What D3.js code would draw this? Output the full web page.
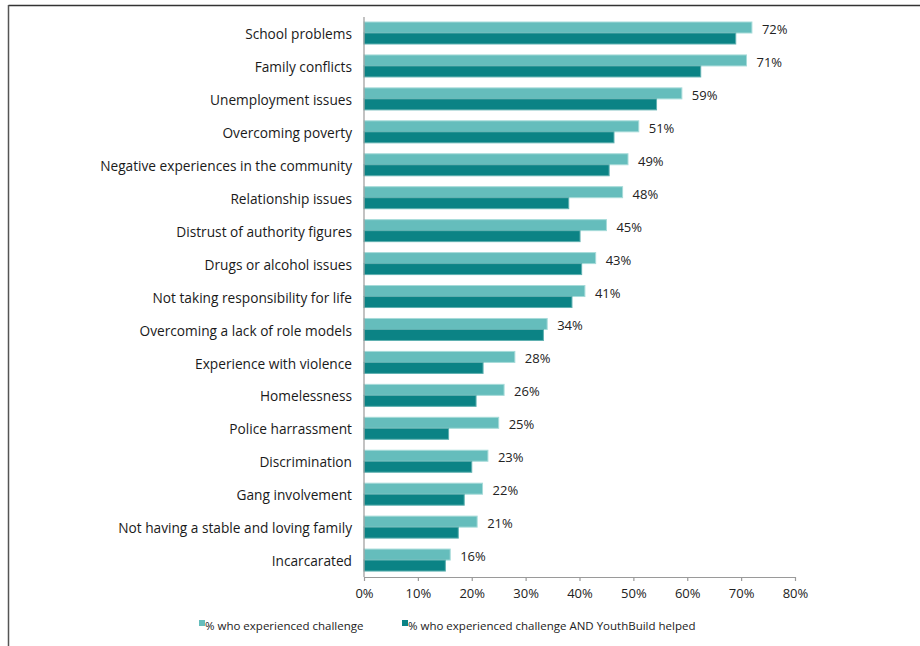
<!DOCTYPE html>
<html><head><meta charset="utf-8">
<script src="https://cdn.jsdelivr.net/npm/d3@7"></script>
<style>body{margin:0;background:#fff}svg{display:block}</style>
</head><body>
<svg id="c" width="920" height="646"></svg>
<script>
const categories = ["School problems","Family conflicts","Unemployment issues","Overcoming poverty","Negative experiences in the community","Relationship issues","Distrust of authority figures","Drugs or alcohol issues","Not taking responsibility for life","Overcoming a lack of role models","Experience with violence","Homelessness","Police harrassment","Discrimination","Gang involvement","Not having a stable and loving family","Incarcarated"];
const experienced = [72,71,59,51,49,48,45,43,41,34,28,26,25,23,22,21,16];
const helped = [69.0,62.5,54.3,46.4,45.5,38.0,40.1,40.4,38.6,33.3,22.1,20.8,15.7,20.0,18.6,17.5,15.1];
const seriesNames = ["% who experienced challenge","% who experienced challenge AND YouthBuild helped"];
const ticks = [0,10,20,30,40,50,60,70,80];

const font = "'Open Sans', 'DejaVu Sans', sans-serif";
const lightFill = "#65bdbc", lightStroke = "#a6dbd9";
const darkFill = "#0b8385", darkStroke = "#5fb0b0";

const svg = d3.select("#c");
// frame
svg.append("line").attr("x1",8.5).attr("x2",920).attr("y1",5.5).attr("y2",5.5).attr("stroke","#333").attr("stroke-width",1.3);
svg.append("line").attr("x1",8.5).attr("x2",8.5).attr("y1",5).attr("y2",646).attr("stroke","#555").attr("stroke-width",1.5);

const x = d3.scaleLinear().domain([0,80]).range([364,795]);
const y = d3.scaleBand().domain(categories).range([17,577]).paddingInner(0).paddingOuter(0);
const bh = 11;

const g = svg.append("g");
const rows = g.selectAll("g.row").data(categories).join("g").attr("class","row");

rows.append("rect")
  .attr("x", x(0)).attr("y", (d)=>y(d)+5)
  .attr("width",(d,i)=>x(experienced[i])-x(0)).attr("height",bh)
  .attr("fill",lightFill).attr("stroke",lightStroke).attr("stroke-width",1);
rows.append("rect")
  .attr("x", x(0)).attr("y", (d)=>y(d)+5+bh)
  .attr("width",(d,i)=>x(helped[i])-x(0)).attr("height",bh)
  .attr("fill",darkFill).attr("stroke",darkStroke).attr("stroke-width",1);
rows.append("text")
  .attr("x",(d,i)=>x(experienced[i])+10).attr("y",(d)=>y(d)+5+bh/2+3)
  .attr("dominant-baseline","middle")
  .attr("font-family",font).attr("font-size",13).attr("fill","#222")
  .text((d,i)=>experienced[i]+"%");
rows.append("text")
  .attr("x",352).attr("y",(d)=>y(d)+y.bandwidth()/2+2)
  .attr("text-anchor","end").attr("dominant-baseline","middle")
  .attr("font-family",font).attr("font-size",13.7).attr("fill","#1a1a1a")
  .text(d=>d);

// axes
const xAxis = d3.axisBottom(x).tickValues(ticks).tickFormat(d=>d+"%").tickSize(4).tickSizeOuter(0);
const ax = svg.append("g").attr("transform","translate(0,577)").call(xAxis);
ax.select(".domain").attr("stroke","#9a9a9a").attr("stroke-width",1.2);
ax.selectAll(".tick line").attr("stroke","#9a9a9a").attr("stroke-width",1.2);
ax.selectAll(".tick text").attr("font-family",font).attr("font-size",13).attr("fill","#222").attr("y",7).attr("dy","1.1em");
svg.append("line").attr("x1",x(0)).attr("x2",x(0)).attr("y1",17).attr("y2",577).attr("stroke","#9a9a9a").attr("stroke-width",1.2);

// legend
const legX = [199, 402];
const leg = svg.selectAll("g.leg").data(seriesNames).join("g").attr("class","leg");
leg.append("rect").attr("x",(d,i)=>legX[i]).attr("y",620).attr("width",6).attr("height",6)
  .attr("fill",(d,i)=>i===0?lightFill:darkFill);
leg.append("text").attr("x",(d,i)=>legX[i]+6).attr("y",630)
  .attr("font-family",font).attr("font-size",11.5).attr("fill","#222")
  .text(d=>d);
</script>
</body></html>
